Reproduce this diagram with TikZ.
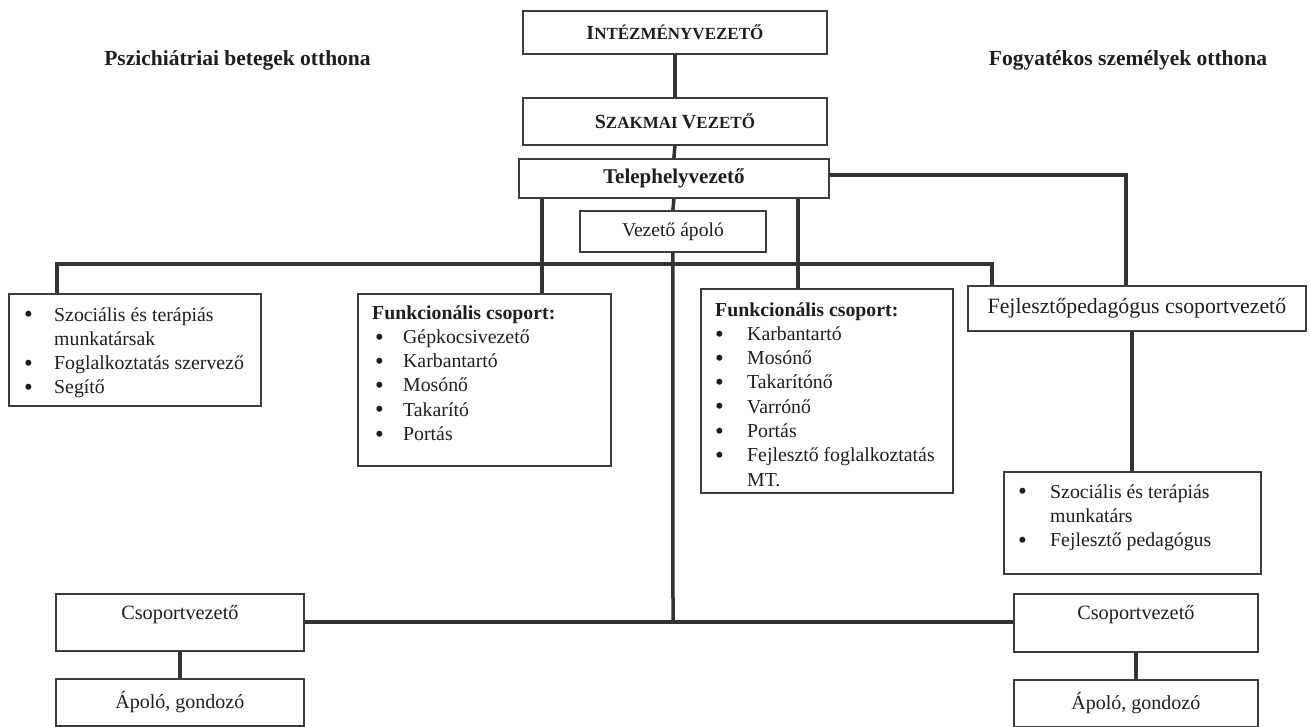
\documentclass[tikz,border=0pt]{standalone}
\usepackage{fontspec}
\setmainfont{Liberation Serif}
\definecolor{txt}{HTML}{1E1E1E}
\definecolor{linec}{HTML}{333333}
\definecolor{boxc}{HTML}{3C3C3C}
\newcommand{\bx}[5]{\node[box, minimum width=#4-#2, minimum height=#5-#3] (#1) at (#2,#3) {};}
\newcommand{\bul}[1]{\makebox[#1][l]{\fontsize{25}{24}\selectfont\raisebox{-1.7pt}{\textbullet}}}
\begin{document}
\begin{tikzpicture}[x=1pt,y=-1pt]
\useasboundingbox[fill=white] (0,0) rectangle (1310,726);
\tikzset{
  box/.style={draw=boxc, line width=1.8pt, fill=white, inner sep=0pt, anchor=north west},
  conn/.style={draw=linec, line width=3.5pt},
  body/.style={font=\fontsize{19.8}{24.3}\selectfont, text=txt, inner sep=0pt},
  lbl/.style={text=txt, inner sep=0pt},
}
% titles
\node[lbl, font=\fontsize{21.5}{24}\selectfont\bfseries] (tl) at (237.5,60) {Pszichiátriai betegek otthona};
\node[lbl, font=\fontsize{21.5}{24}\selectfont\bfseries] (tr) at (1128,60) {Fogyatékos személyek otthona};
% boxes
\bx{iv}{522}{10}{826}{53}
\bx{sv}{522}{97}{826}{144}
\bx{tv}{518}{158}{828}{197}
\bx{va}{579}{210}{765}{251}
\bx{lb}{8}{293}{260}{405}
\bx{fa}{357}{293}{610}{465}
\bx{fb}{700}{288}{952}{492}
\bx{fp}{967}{285}{1305}{330}
\bx{rs}{1003}{471}{1260}{573}
\bx{csa}{55}{593}{303}{650}
\bx{apa}{55}{678}{303}{725}
\bx{csb}{1013}{593}{1257}{651}
\bx{apb}{1013}{679}{1257}{726}
% named points of the connectors
\coordinate (xL) at (542,264);
\coordinate (xR) at (798,264);
\coordinate (hL) at (57,264);
\coordinate (hR) at (992,264);
\coordinate (xF) at (1126,175);
\coordinate (xG) at (1132,400);
\coordinate (hb) at (673,622);
% connectors
\draw[conn] (iv.south) -- (sv.north);
\draw[conn] (sv.south) -- (tv.north);
\draw[conn] (tv.south) -- (va.north);
\draw[conn] (va.south) -- (hb);
\draw[conn] (tv.south -| xL) -- (fa.north -| xL);
\draw[conn] (tv.south -| xR) -- (fb.north -| xR);
\draw[conn] (lb.north -| hL) -- (hL) -- (hR) -- (fp.north -| hR);
\draw[conn] (tv.east |- xF) -- (xF) -- (fp.north -| xF);
\draw[conn] (fp.south -| xG) -- (rs.north -| xG);
\draw[conn] (csa.east |- hb) -- (csb.west |- hb);
\draw[conn] (csa.south) -- (apa.north);
\draw[conn] (csb.south) -- (apb.north);
% single-line texts
\node[lbl, font=\bfseries] (ivt) at (iv.center) {\fontsize{20}{22}\selectfont I\fontsize{17}{22}\selectfont NTÉZMÉNYVEZETŐ};
\node[lbl, font=\bfseries] (svt) at (sv.center) {\fontsize{20}{22}\selectfont S\fontsize{17}{22}\selectfont ZAKMAI \fontsize{20}{22}\selectfont V\fontsize{17}{22}\selectfont EZETŐ};
\node[lbl, font=\fontsize{21}{24}\selectfont\bfseries] (tvt) at (tv.center) {Telephelyvezető};
\node[lbl, font=\fontsize{19.6}{24}\selectfont] (vat) at (va.center) {Vezető ápoló};
\node[lbl, font=\fontsize{21.8}{24}\selectfont] (fpt) at (fp.center) {Fejlesztőpedagógus csoportvezető};
\node[lbl, font=\fontsize{20.3}{24}\selectfont, anchor=base] (csat) at (csa.north |- 0,619) {Csoportvezető};
\node[lbl, font=\fontsize{20.3}{24}\selectfont, anchor=base] (csbt) at (csb.north |- 0,619) {Csoportvezető};
\node[lbl, font=\fontsize{20}{24}\selectfont] (apat) at (apa.center) {Ápoló, gondozó};
\node[lbl, font=\fontsize{20}{24}\selectfont] (apbt) at (apb.center) {Ápoló, gondozó};
% list texts
\node[body, anchor=base west] (lbt) at (24,321) {\parbox[t]{236pt}{\raggedright
\bul{30pt}Szociális és terápiás\\
\hspace*{30pt}munkatársak\\
\bul{30pt}Foglalkoztatás szervező\\
\bul{30pt}Segítő}};
\node[body, anchor=base west] (fat) at (372,319) {\parbox[t]{236pt}{\raggedright
\textbf{Funkcionális csoport:}\\
\hspace*{3pt}\bul{28pt}Gépkocsivezető\\
\hspace*{3pt}\bul{28pt}Karbantartó\\
\hspace*{3pt}\bul{28pt}Mosónő\\
\hspace*{3pt}\bul{28pt}Takarító\\
\hspace*{3pt}\bul{28pt}Portás}};
\node[body, anchor=base west] (fbt) at (715,316) {\parbox[t]{236pt}{\raggedright
\textbf{Funkcionális csoport:}\\
\bul{32pt}Karbantartó\\
\bul{32pt}Mosónő\\
\bul{32pt}Takarítónő\\
\bul{32pt}Varrónő\\
\bul{32pt}Portás\\
\bul{32pt}Fejlesztő foglalkoztatás\\
\hspace*{32pt}MT.}};
\node[body, anchor=base west] (rst) at (1018,498) {\parbox[t]{240pt}{\raggedright
\bul{32pt}Szociális és terápiás\\
\hspace*{32pt}munkatárs\\
\bul{32pt}Fejlesztő pedagógus}};
\end{tikzpicture}
\end{document}
